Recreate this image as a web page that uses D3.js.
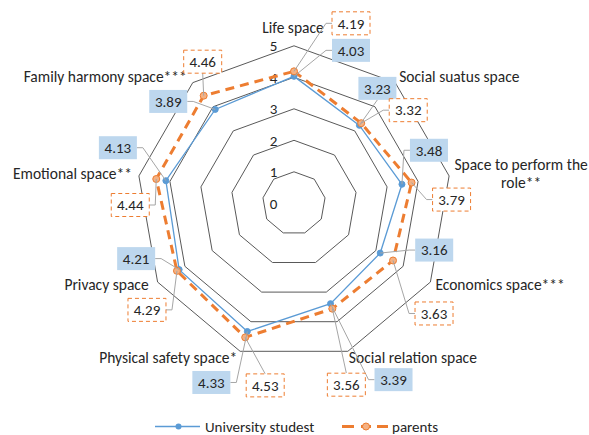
<!DOCTYPE html>
<html>
<head>
<meta charset="utf-8">
<script src="https://cdn.jsdelivr.net/npm/d3@7"></script>
<style>
	body { margin: 0; background: #fff; }
	svg text { font-family: Carlito, "Liberation Sans", Arial, sans-serif; fill: #262626; }
</style>
</head>
<body>
<div id="chart"></div>
<script>
var categories = ['Life space', 'Social suatus space', 'Space to perform the|role**',
	'Economics space***', 'Social relation space', 'Physical safety space*',
	'Privacy space', 'Emotional space**', 'Family harmony space***'];
var students = [4.03, 3.23, 3.48, 3.16, 3.39, 4.33, 4.21, 4.13, 3.89];
var parents = [4.19, 3.32, 3.79, 3.63, 3.56, 4.53, 4.29, 4.44, 4.46];
var ticks = [0, 1, 2, 3, 4, 5];
var seriesNames = ['University studest', 'parents'];

/* label box offsets from the marker */
var studentLabelOff = [[57, -26], [18, -37], [27, -34], [54, -3], [63, 76], [-36, 51], [-43, -11], [-48, -33], [-47, -8]];
var parentLabelOff = [[57, -48], [47, -13], [40, 17], [41, 53], [14, 76], [20, 48], [-30, 39], [-26, 26], [-1, -34]];
/* category label placement: dx, dy from outer vertex, anchor */
var catLabelPos = [[-1, -18, 'middle'], [4, -6, 'start'], [72, -2, 'middle'], [5, 3, 'start'],
	[1, 6, 'start'], [-3, 6, 'end'], [-9, 3, 'end'], [-7, -2, 'end'], [-6, -6, 'end']];

var width = 589, height = 435;
var cx = 294, cy = 203.3;

var svg = d3.select('#chart').append('svg')
	.attr('width', width)
	.attr('height', height)

var r = d3.scaleLinear().domain([0, 5]).range([0, 157.5]);
var angle = d3.scaleLinear().domain([0, categories.length]).range([0, 2 * Math.PI]);

function pt(i, v) {
	var a = angle(i);
	return [cx + r(v) * Math.sin(a), cy - r(v) * Math.cos(a)];
}

var g = svg.append('g');

// grid polygons
ticks.slice(1).forEach(function (t) {
	var pts = categories.map(function (c, i) { return pt(i, t); });
	g.append('polygon')
		.attr('points', pts.map(function (p) { return p.join(','); }).join(' '))
		.attr('fill', 'none')
		.attr('stroke', '#595959')
		.attr('stroke-width', 1)
})

// tick labels
ticks.forEach(function (t) {
	g.append('text')
		.attr('x', cx - 20.5)
		.attr('y', cy - r(t))
		.attr('dy', '0.35em')
		.attr('text-anchor', 'middle')
		.attr('font-size', 15)
		.text(t)
})

// category labels
categories.forEach(function (c, i) {
	var p = pt(i, 5);
	var pos = catLabelPos[i];
	var lines = c.split('|');
	var lh = 18;
	lines.forEach(function (l, j) {
		g.append('text')
			.attr('x', p[0] + pos[0])
			.attr('y', p[1] + pos[1] - (lines.length - 1) * lh / 2 + j * lh)
			.attr('dy', '0.35em')
			.attr('text-anchor', pos[2])
			.attr('font-size', 15.5)
			.text(l)
	})
})

var line = d3.line().curve(d3.curveLinearClosed);

function drawSeries(values, color, widthPx, dash, markR, markFill) {
	var pts = values.map(function (v, i) { return pt(i, v); });
	g.append('path')
		.attr('d', line(pts))
		.attr('fill', 'none')
		.attr('stroke', color)
		.attr('stroke-width', widthPx)
		.attr('stroke-dasharray', dash)
	g.selectAll(null).data(pts).enter().append('circle')
		.attr('cx', function (d) { return d[0]; })
		.attr('cy', function (d) { return d[1]; })
		.attr('r', markR)
		.attr('fill', markFill)
		.attr('stroke', color)
		.attr('stroke-width', 1)
	return pts;
}

var sPts = drawSeries(students, '#5B9BD5', 1.3, null, 3, '#5B9BD5');
var pPts = drawSeries(parents, '#ED7D31', 3, '9,6', 3.5, '#F4B183');

function drawLabels(values, pts, offs, parent) {
	var bw = 38, bh = 23;
	values.forEach(function (v, i) {
		var m = pts[i];
		var bx = m[0] + offs[i][0], by = m[1] + offs[i][1];
		var dx = offs[i][0], dy = offs[i][1];
		var path;
		if (Math.abs(dx) > bw / 2 + 4) {
			var ex = dx > 0 ? bx - bw / 2 : bx + bw / 2;
			var sx = dx > 0 ? ex - 6 : ex + 6;
			path = [m, [sx, by], [ex, by]];
		} else {
			var ey = dy > 0 ? by - bh / 2 : by + bh / 2;
			path = [m, [bx, ey]];
		}
		g.append('path')
			.attr('d', d3.line()(path))
			.attr('fill', 'none')
			.attr('stroke', '#A6A6A6')
			.attr('stroke-width', 1)
		g.append('rect')
			.attr('x', bx - bw / 2)
			.attr('y', by - bh / 2)
			.attr('width', bw)
			.attr('height', bh)
			.attr('fill', parent ? '#fff' : '#BDD7EE')
			.attr('stroke', parent ? '#ED7D31' : 'none')
			.attr('stroke-dasharray', parent ? '4,3' : null)
		g.append('text')
			.attr('x', bx)
			.attr('y', by)
			.attr('dy', '0.35em')
			.attr('text-anchor', 'middle')
			.attr('font-size', 15)
			.text(v.toFixed(2))
	})
}

drawLabels(students, sPts, studentLabelOff, false);
drawLabels(parents, pPts, parentLabelOff, true);

// legend
var leg = svg.append('g').attr('transform', 'translate(0,426.5)');
leg.append('line').attr('x1', 155).attr('x2', 200).attr('stroke', '#5B9BD5').attr('stroke-width', 1.3);
leg.append('circle').attr('cx', 178.5).attr('r', 3).attr('fill', '#5B9BD5');
leg.append('text').attr('x', 205).attr('dy', '0.35em').attr('font-size', 15).text(seriesNames[0]);
[[342, 354], [361, 371], [377, 388]].forEach(function (s) {
	leg.append('line').attr('x1', s[0]).attr('x2', s[1]).attr('stroke', '#ED7D31').attr('stroke-width', 3);
})
leg.append('circle').attr('cx', 366).attr('r', 3.5).attr('fill', '#F4B183').attr('stroke', '#ED7D31');
leg.append('text').attr('x', 392).attr('dy', '0.35em').attr('font-size', 15).text(seriesNames[1]);
</script>
</body>
</html>
